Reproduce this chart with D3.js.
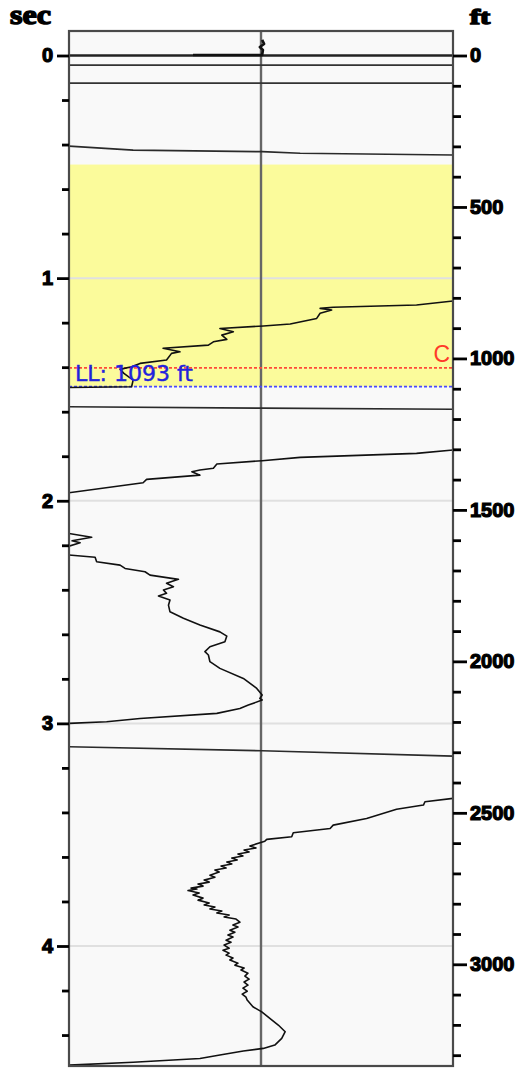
<!DOCTYPE html>
<html>
<head>
<meta charset="utf-8">
<script src="https://cdn.jsdelivr.net/npm/d3@7/dist/d3.min.js"></script>
<style>
  html, body { margin: 0; padding: 0; background: #ffffff; }
  svg { display: block; }
</style>
</head>
<body>
<svg id="chart" width="522" height="1069"></svg>
<script>
// ---------------- DATA ----------------
const secMajorTicks = [0, 1, 2, 3, 4];
const secMinorTicks = [0.2, 0.4, 0.6, 0.8, 1.2, 1.4, 1.6, 1.8, 2.2, 2.4, 2.6, 2.8, 3.2, 3.4, 3.6, 3.8, 4.2, 4.4];
const ftMajorTicks = [0, 500, 1000, 1500, 2000, 2500, 3000];
const ftMinorTicks = [100, 200, 300, 400, 600, 700, 800, 900, 1100, 1200, 1300, 1400, 1600, 1700, 1800, 1900,
                      2100, 2200, 2300, 2400, 2600, 2700, 2800, 2900, 3100, 3200, 3300];
const secGridLines = [1, 2, 3, 4];
const topLines = [0.043, 0.124];         // sec
const zeroLine = 0;                       // sec
const yellowZoneFt = [360, 1093];         // ft
const cMarkerFt = 1031;                   // ft, red "C"
const llMarkerFt = 1093;                  // ft, blue "LL"
const llLabel = "LL: 1093 ft";
const cLabel = "C";

// trace segments: [amplitude % of track width, time (sec)]
const trace0 = [[50.3,-0.070],[50.8,-0.052],[49.7,-0.038],[50.5,-0.025],[50.3,-0.002],[32.3,-0.002]];
const trace1 = [[0,0.407],[16.7,0.425],[50.3,0.432],[60.2,0.439],[100,0.447]];
const trace2 = [[0,1.491],[16.3,1.488],[16.7,1.458],[14.3,1.428],[13.3,1.410],[16.3,1.398],[18.5,1.383],
  [25.4,1.368],[26.7,1.338],[28.9,1.331],[24.5,1.315],[36.3,1.301],[37.6,1.286],[41.1,1.275],[39.8,1.256],
  [42.8,1.241],[39.3,1.226],[50.6,1.215],[57.6,1.206],[64.5,1.181],[65.4,1.158],[68.4,1.143],[65.4,1.136],
  [68.8,1.131],[90.5,1.121],[100,1.103]];
const trace3 = [[0,1.578],[50.3,1.584],[100,1.589]];
const trace4 = [[100,1.772],[90.5,1.787],[60.2,1.805],[50.3,1.820],[38.5,1.835],[37.6,1.854],[34.1,1.862],
  [32.0,1.870],[34.1,1.885],[20.2,1.904],[19.3,1.919],[0,1.964]];
const trace5 = [[0,2.147],[5.9,2.164],[0.8,2.180],[2.9,2.189],[0,2.204]];
const trace6 = [[0,2.244],[6.8,2.254],[7.2,2.274],[13.3,2.289],[14.6,2.304],[19.8,2.319],[21.1,2.334],
  [28.5,2.353],[25.4,2.371],[27.2,2.386],[24.6,2.401],[25.4,2.416],[23.3,2.428],[26.3,2.446],[25.9,2.469],
  [26.3,2.499],[29.8,2.528],[34.1,2.558],[39.3,2.589],[41.1,2.608],[40.6,2.633],[36.7,2.656],[35.4,2.678],
  [36.3,2.693],[36.7,2.723],[39.3,2.753],[45.4,2.798],[48.9,2.843],[50.3,2.873],[49.7,2.888],[50.3,2.895],
  [46.7,2.918],[44.5,2.933],[38.5,2.955],[18.5,2.978],[9.8,2.993],[0,3.000]];
const trace7 = [[0,3.105],[50.3,3.123],[100,3.147]];
const trace8 = [[100,3.337],[92.7,3.352],[92.3,3.367],[85.3,3.386],[77.5,3.427],[68.8,3.457],[68.0,3.472],
  [58.4,3.491],[58.0,3.509],[51.5,3.521],[51.0,3.529],
  [47.1,3.551],[48.7,3.560],[45.6,3.569],[46.9,3.578],[44.0,3.587],[45.3,3.596],[42.4,3.605],[43.8,3.614],
  [41.1,3.623],[42.4,3.632],[39.6,3.641],[40.9,3.650],[38.0,3.659],[39.1,3.668],[36.7,3.682],[38.0,3.691],
  [35.2,3.704],[36.5,3.713],[33.6,3.722],[34.9,3.731],[31.8,3.740],[33.3,3.744],[31.0,3.751],
  [33.9,3.762],[32.3,3.771],[34.9,3.785],[33.6,3.794],[36.5,3.807],[35.2,3.816],[38.0,3.825],[36.7,3.834],
  [39.8,3.843],[38.5,3.852],[41.7,3.861],[40.4,3.870],[43.5,3.879],[44.5,3.893],
  [42.7,3.906],[44.0,3.915],[41.9,3.929],[43.2,3.938],[41.4,3.951],[42.7,3.960],[40.9,3.974],[42.2,3.983],
  [40.4,3.996],[41.7,4.010],[40.1,4.019],[41.7,4.032],[40.9,4.041],[42.7,4.054],[41.9,4.063],[44.0,4.077],
  [43.2,4.086],[45.6,4.099],[44.8,4.108],[46.6,4.122],[45.8,4.135],[46.9,4.149],[45.6,4.162],[46.6,4.176],
  [45.3,4.189],[46.4,4.203],[45.1,4.216],[46.1,4.230],[46.4,4.243],[47.9,4.273],[50.2,4.296],[52.3,4.325],
  [54.5,4.355],[56.3,4.385],[55.4,4.415],[53.6,4.445],[50.6,4.460],[45.4,4.472],[39.3,4.490],[34.1,4.505],
  [16.7,4.522],[0,4.535]];
const traces = [trace0, trace1, trace2, trace3, trace4, trace5, trace6, trace7, trace8];

// ---------------- LAYOUT ----------------
const plot = { left: 69, right: 453, top: 31, bottom: 1066 };
const svg = d3.select("#chart");

const x = d3.scaleLinear().domain([0, 100]).range([plot.left, plot.right]);
const y = d3.scaleLinear().domain([0, 4]).range([55.5, 946]);
const yFt = d3.scaleLinear().domain([0, 3000]).range([55.5, 964.3]);

svg.append("defs").append("clipPath").attr("id", "clip")
  .append("rect").attr("x", plot.left).attr("y", plot.top)
  .attr("width", plot.right - plot.left).attr("height", plot.bottom - plot.top);

// background
svg.append("rect").attr("x", plot.left).attr("y", plot.top)
  .attr("width", plot.right - plot.left).attr("height", plot.bottom - plot.top)
  .attr("fill", "#f9f9f9");

const g = svg.append("g").attr("clip-path", "url(#clip)");

// yellow zone
g.append("rect").attr("x", plot.left).attr("width", plot.right - plot.left)
  .attr("y", yFt(yellowZoneFt[0])).attr("height", yFt(yellowZoneFt[1]) - yFt(yellowZoneFt[0]))
  .attr("fill", "#fbfb9b");

// grid
g.selectAll("line.grid").data(secGridLines).join("line").attr("class", "grid")
  .attr("x1", plot.left).attr("x2", plot.right)
  .attr("y1", d => y(d)).attr("y2", d => y(d))
  .attr("stroke", "#e0e0e0").attr("stroke-width", 2);

// center line
g.append("line").attr("x1", x(50)).attr("x2", x(50)).attr("y1", plot.top).attr("y2", plot.bottom)
  .attr("stroke", "#666").attr("stroke-width", 2.4);

// top horizontal lines
g.append("line").attr("x1", plot.left).attr("x2", plot.right)
  .attr("y1", y(zeroLine)).attr("y2", y(zeroLine))
  .attr("stroke", "#222").attr("stroke-width", 2.4);
g.selectAll("line.top").data(topLines).join("line").attr("class", "top")
  .attr("x1", plot.left).attr("x2", plot.right)
  .attr("y1", d => y(d)).attr("y2", d => y(d))
  .attr("stroke", "#333").attr("stroke-width", 1.8);

// marker lines
g.append("line").attr("x1", plot.left).attr("x2", plot.right)
  .attr("y1", yFt(cMarkerFt)).attr("y2", yFt(cMarkerFt))
  .attr("stroke", "#ff4a3a").attr("stroke-width", 1.8).attr("stroke-dasharray", "3,2");
g.append("line").attr("x1", plot.left).attr("x2", plot.right)
  .attr("y1", yFt(llMarkerFt)).attr("y2", yFt(llMarkerFt))
  .attr("stroke", "#4a4aff").attr("stroke-width", 1.8).attr("stroke-dasharray", "3,2");

// traces
const line = d3.line().x(d => x(d[0])).y(d => y(d[1]));
g.selectAll("path.trace").data(traces).join("path").attr("class", "trace")
  .attr("d", line).attr("fill", "none")
  .attr("stroke", (d, i) => (i === 1 || i === 3 || i === 7) ? "#2a2a2a" : "#111")
  .attr("stroke-width", (d, i) => i === 0 ? 2.6 : 1.6)
  .attr("stroke-linejoin", "round");

// labels
svg.append("text").attr("x", 75).attr("y", 380.5)
  .attr("font-family", "DejaVu Sans, sans-serif").attr("font-size", 21)
  .attr("fill", "#2222dd").attr("stroke", "#2222dd").attr("stroke-width", 0.4)
  .attr("textLength", 118).attr("lengthAdjust", "spacingAndGlyphs").text(llLabel);
svg.append("text").attr("x", 450).attr("y", 361.5).attr("text-anchor", "end")
  .attr("font-family", "Liberation Sans, Arial, sans-serif").attr("font-size", 23)
  .attr("fill", "#ff3a2a").text(cLabel);

// border
svg.append("rect").attr("x", plot.left).attr("y", plot.top)
  .attr("width", plot.right - plot.left).attr("height", plot.bottom - plot.top)
  .attr("fill", "none").attr("stroke", "#4a4a4a").attr("stroke-width", 2.2);

// axes
function styleAxis(sel) {
  sel.select(".domain").remove();
  sel.selectAll(".tick line").attr("stroke", "#000").attr("stroke-width", 2.8);
  sel.selectAll(".tick text")
    .attr("font-family", "Liberation Sans, Arial, sans-serif")
    .attr("font-size", 20).attr("font-weight", "bold")
    .attr("fill", "#000").attr("stroke", "#000").attr("stroke-width", 1.2);
}
svg.append("g").attr("transform", `translate(${plot.left},0)`)
  .call(d3.axisLeft(y).tickValues(secMinorTicks).tickSize(7).tickFormat(""))
  .call(styleAxis);
svg.append("g").attr("transform", `translate(${plot.left},0)`)
  .call(d3.axisLeft(y).tickValues(secMajorTicks).tickSize(12).tickPadding(4).tickFormat(d3.format("d")))
  .call(styleAxis);
svg.append("g").attr("transform", `translate(${plot.right},0)`)
  .call(d3.axisRight(yFt).tickValues(ftMinorTicks).tickSize(8).tickFormat(""))
  .call(styleAxis);
svg.append("g").attr("transform", `translate(${plot.right},0)`)
  .call(d3.axisRight(yFt).tickValues(ftMajorTicks).tickSize(14).tickPadding(3).tickFormat(d3.format("d")))
  .call(styleAxis);

// axis titles
svg.append("text").attr("x", 10).attr("y", 24)
  .attr("font-family", "Liberation Serif, Times New Roman, serif").attr("font-size", 27)
  .attr("font-weight", "bold").attr("fill", "#000").attr("stroke", "#000").attr("stroke-width", 1.4)
  .attr("textLength", 41).attr("lengthAdjust", "spacingAndGlyphs").text("sec");
svg.append("text").attr("x", 470).attr("y", 24)
  .attr("font-family", "Liberation Serif, Times New Roman, serif").attr("font-size", 20)
  .attr("font-weight", "bold").attr("fill", "#000").attr("stroke", "#000").attr("stroke-width", 1.4)
  .attr("textLength", 20).attr("lengthAdjust", "spacingAndGlyphs").text("ft");
</script>
</body>
</html>
